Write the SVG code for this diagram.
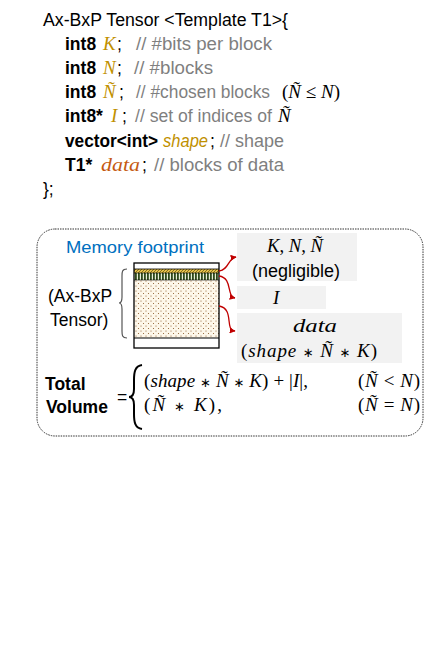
<svg xmlns="http://www.w3.org/2000/svg" width="435" height="661" viewBox="0 0 435 661">
<style>
.s{font-family:"Liberation Sans",Arial,sans-serif;font-size:17.5px;fill:#000}
.b{font-weight:bold}
.c{fill:#7f7f7f}
.m{font-family:"Liberation Serif","Times New Roman",serif;font-style:italic;font-size:19px;fill:#000}
.up{font-style:normal}
.op{font-family:"DejaVu Sans",sans-serif;font-style:normal;font-size:13px}
.g{fill:#bf9000}
.o{fill:#c55a11}
.box{fill:#f2f2f2}
.arr{fill:none;stroke:#c00000;stroke-width:1.3;marker-end:url(#ah)}
</style>
<defs>
<marker id="ah" viewBox="0 0 10 10" refX="9" refY="5" markerWidth="6" markerHeight="6" orient="auto" markerUnits="userSpaceOnUse">
<path d="M0,0 L10,5 L0,10 z" fill="#c00000"/>
</marker>
<pattern id="dots" width="5" height="5" patternUnits="userSpaceOnUse">
<rect width="5" height="5" fill="#fdf7ea"/>
<circle cx="1" cy="1" r="0.55" fill="#8a5a2a"/>
<circle cx="3.5" cy="3.5" r="0.55" fill="#8a5a2a"/>
</pattern>
<pattern id="vstripe" width="3" height="8" patternUnits="userSpaceOnUse">
<rect width="3" height="8" fill="#e8efd8"/>
<rect width="1.8" height="8" fill="#2f4a1c"/>
</pattern>
<pattern id="hatch" width="3" height="3" patternUnits="userSpaceOnUse">
<rect width="3" height="3" fill="#e6c24a"/>
<path d="M0,3 L3,0" stroke="#5a4a10" stroke-width="0.7"/>
</pattern>
</defs>

<g id="code">
<text class="s" x="43" y="26" textLength="245" lengthAdjust="spacingAndGlyphs">Ax-BxP Tensor &lt;Template T1&gt;{</text>
<text class="s" y="50"><tspan class="b" x="65">int8</tspan><tspan class="m g" x="103">K</tspan><tspan x="117">;</tspan><tspan class="c" x="136" textLength="136" lengthAdjust="spacingAndGlyphs">// #bits per block</tspan></text>
<text class="s" y="74"><tspan class="b" x="65">int8</tspan><tspan class="m g" x="103">N</tspan><tspan x="117">;</tspan><tspan class="c" x="134" textLength="79" lengthAdjust="spacingAndGlyphs">// #blocks</tspan></text>
<text class="s" y="98"><tspan class="b" x="65">int8</tspan><tspan class="m g" x="103">Ñ</tspan><tspan x="119">;</tspan><tspan class="c" x="136" textLength="134" lengthAdjust="spacingAndGlyphs">// #chosen blocks</tspan><tspan class="m c" x="282"><tspan class="up">(</tspan>Ñ <tspan class="up">≤</tspan> N<tspan class="up">)</tspan></tspan></text>
<text class="s" y="122"><tspan class="b" x="65">int8*</tspan><tspan class="m g" x="111">I</tspan><tspan x="122">;</tspan><tspan class="c" x="135" textLength="137" lengthAdjust="spacingAndGlyphs">// set of indices of</tspan><tspan class="m c" x="278">Ñ</tspan></text>
<text class="s" y="147"><tspan class="b" x="65" textLength="93" lengthAdjust="spacingAndGlyphs">vector&lt;int&gt;</tspan><tspan class="g" x="163" font-style="italic" textLength="45" lengthAdjust="spacingAndGlyphs">shape</tspan><tspan x="210">;</tspan><tspan class="c" x="220" textLength="64" lengthAdjust="spacingAndGlyphs">// shape</tspan></text>
<text class="s" y="171"><tspan class="b" x="65">T1*</tspan><tspan class="m o" x="101" textLength="39" lengthAdjust="spacingAndGlyphs">data</tspan><tspan x="142">;</tspan><tspan class="c" x="154" textLength="130" lengthAdjust="spacingAndGlyphs">// blocks of data</tspan></text>
<text class="s" x="43" y="195">};</text>
</g>

<g id="frame">
<rect x="37" y="229" width="386" height="207" rx="18" fill="none" stroke="#333" stroke-width="1" stroke-dasharray="1.5 1"/>
</g>

<g id="title">
<text class="s" x="66" y="253" style="fill:#0070c0;font-size:17px" textLength="138" lengthAdjust="spacingAndGlyphs">Memory footprint</text>
</g>

<g id="tensor-label">
<text class="s" x="48" y="302">(Ax-BxP</text>
<text class="s" x="50" y="326">Tensor)</text>
<path d="M127,269 C122,269 122,272 122,276 L122,297 C122,301 121,303 119,303 C121,303 122,305 122,309 L122,331 C122,335 122,338 127,338" fill="none" stroke="#555" stroke-width="1.2"/>
</g>

<g id="memory-block">
<rect x="134" y="269" width="85" height="4" fill="url(#hatch)"/>
<rect x="134" y="273" width="85" height="7" fill="url(#vstripe)"/>
<rect x="134" y="280" width="85" height="58" fill="url(#dots)"/>
<rect x="134" y="263" width="85" height="85" fill="none" stroke="#000" stroke-width="1.3"/>
<line x1="134" y1="269" x2="219" y2="269" stroke="#000" stroke-width="0.8"/>
<line x1="134" y1="273" x2="219" y2="273" stroke="#000" stroke-width="0.6"/>
<line x1="134" y1="280" x2="219" y2="280" stroke="#000" stroke-width="0.6"/>
<line x1="134" y1="338" x2="219" y2="338" stroke="#000" stroke-width="1.2"/>
</g>

<g id="box-meta">
<rect class="box" x="237" y="233" width="120" height="48"/>
<text class="m" x="267" y="252" textLength="56" lengthAdjust="spacingAndGlyphs">K<tspan class="up">,</tspan> N<tspan class="up">,</tspan> Ñ</text>
<text class="s" x="296" y="277" text-anchor="middle" style="font-size:18px">(negligible)</text>
</g>
<g id="box-indices">
<rect class="box" x="237" y="286" width="89" height="23"/>
<text class="m" x="273" y="304">I</text>
</g>
<g id="box-data">
<rect class="box" x="237" y="313" width="165" height="50"/>
<text class="m" x="293" y="332" textLength="44" lengthAdjust="spacingAndGlyphs">data</text>
<text class="m" x="241" y="357" textLength="136"><tspan class="up">(</tspan>shape <tspan class="op">∗</tspan> Ñ <tspan class="op">∗</tspan> K<tspan class="up">)</tspan></text>
</g>

<g id="connectors">
<path class="arr" d="M219,271 C229,270 228,258 236,257"/>
<path class="arr" d="M219,276 C233,278 226,296 235,298"/>
<path class="arr" d="M219,306 C235,309 224,330 235,331"/>
</g>

<g id="total">
<text class="s b" x="45" y="390">Total</text>
<text class="s b" x="46" y="413">Volume</text>
<text class="s" x="117" y="403">=</text>
<path d="M142,365 C135,366 134,372 134,380 L134,389 C134,394 132,397 129,397 C132,397 134,400 134,405 L134,414 C134,422 135,428 142,429" fill="none" stroke="#000" stroke-width="2"/>
<text class="m" x="144" y="387" textLength="164"><tspan class="up">(</tspan>shape <tspan class="op">∗</tspan> Ñ <tspan class="op">∗</tspan> K<tspan class="up">) +  |</tspan>I<tspan class="up">|,</tspan></text>
<text class="m" x="358" y="387" textLength="62"><tspan class="up">(</tspan>Ñ <tspan class="up">&lt;</tspan> N<tspan class="up">)</tspan></text>
<text class="m" x="144" y="411" textLength="78"><tspan class="up">(</tspan>Ñ <tspan class="op">∗</tspan> K<tspan class="up">),</tspan></text>
<text class="m" x="358" y="411" textLength="62"><tspan class="up">(</tspan>Ñ <tspan class="up">=</tspan> N<tspan class="up">)</tspan></text>
</g>
</svg>
